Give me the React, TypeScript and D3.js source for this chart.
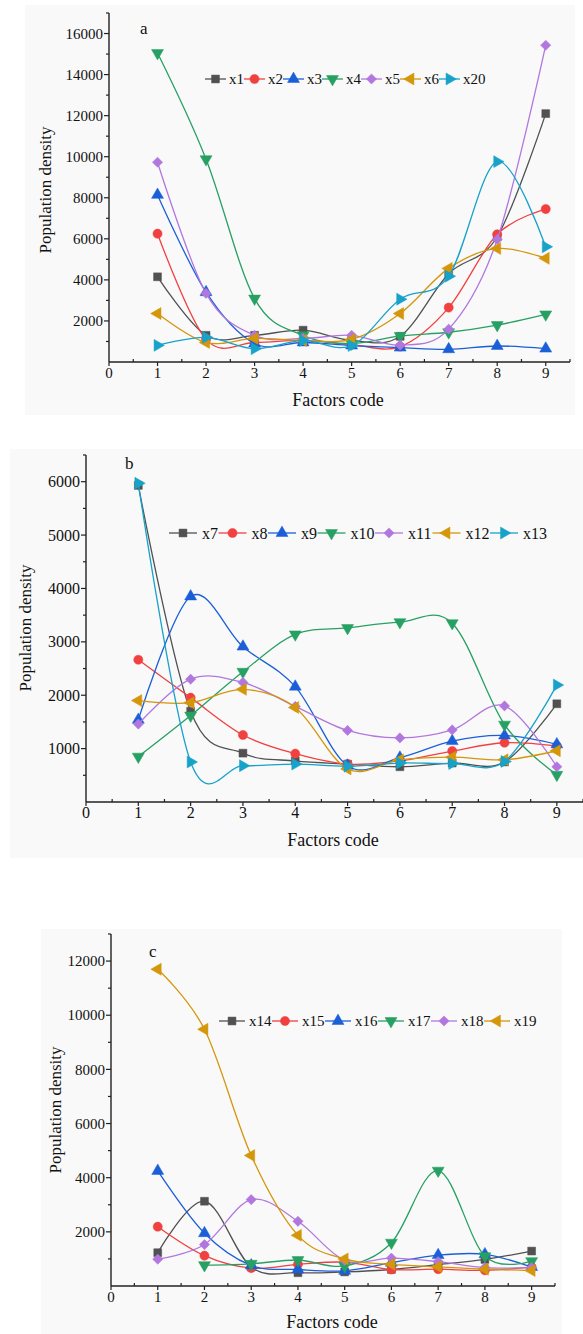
import React from 'react';
import * as d3 from 'd3';

// factor codes on the x axis
const factors = [1, 2, 3, 4, 5, 6, 7, 8, 9];

// panel a
const namesA = ['x1', 'x2', 'x3', 'x4', 'x5', 'x6', 'x20'];
const x1 = [4150, 1300, 1300, 1550, 1050, 1250, 4300, 6100, 12100];
const x2 = [6250, 1100, 950, 1050, 850, 750, 2650, 6220, 7450];
const x3 = [8140, 3400, 900, 950, 800, 700, 620, 780, 650];
const x4 = [15050, 9880, 3090, 1300, 900, 1270, 1450, 1800, 2320];
const x5 = [9730, 3340, 1300, 1150, 1300, 820, 1600, 5970, 15430];
const x6 = [2360, 950, 1150, 1050, 1100, 2360, 4560, 5530, 5050];
const x20 = [810, 1200, 650, 1050, 800, 3060, 4180, 9760, 5610];

// panel b
const namesB = ['x7', 'x8', 'x9', 'x10', 'x11', 'x12', 'x13'];
const x7 = [5930, 1700, 915, 770, 710, 660, 730, 750, 1840];
const x8 = [2665, 1955, 1255, 905, 710, 770, 955, 1110, 1050];
const x9 = [1540, 3850, 2910, 2160, 680, 830, 1140, 1245, 1080];
const x10 = [850, 1620, 2440, 3140, 3260, 3370, 3350, 1450, 510];
const x11 = [1460, 2300, 2240, 1790, 1340, 1200, 1350, 1800, 660];
const x12 = [1900, 1860, 2110, 1770, 620, 790, 840, 790, 960];
const x13 = [5970, 750, 680, 710, 670, 730, 720, 760, 2190];

// panel c (x17 has no value for factor 1)
const namesC = ['x14', 'x15', 'x16', 'x17', 'x18', 'x19'];
const x14 = [1230, 3130, 700, 490, 520, 610, 790, 980, 1290];
const x15 = [2190, 1120, 660, 800, 880, 610, 620, 580, 700];
const x16 = [4250, 1950, 760, 610, 560, 860, 1140, 1170, 700];
const x17 = [null, 770, 820, 960, 740, 1600, 4260, 1100, 920];
const x18 = [990, 1530, 3190, 2390, 950, 1030, 900, 680, 680];
const x19 = [11700, 9480, 4820, 1870, 1000, 800, 710, 620, 570];

const colors = ['#515151', '#f14040', '#1a5fd8', '#27a063', '#b177de', '#d4960a', '#17a2c9'];
const shapes = ['square', 'circle', 'up', 'down', 'diamond', 'left', 'right'];

const FONT = '"Liberation Serif", "Times New Roman", serif';

const symbolFor = (shape) => {
  if (shape === 'square') return { d: d3.symbol(d3.symbolSquare, 62)(), rot: 0 };
  if (shape === 'circle') return { d: d3.symbol(d3.symbolCircle, 66)(), rot: 0 };
  if (shape === 'diamond') return { d: d3.symbol(d3.symbolSquare, 52)(), rot: 45 };
  const rot = { up: 0, down: 180, left: -90, right: 90 }[shape];
  return { d: d3.symbol(d3.symbolTriangle, 62)(), rot };
};

const Marker = ({ shape, color, x, y }) => {
  const s = symbolFor(shape);
  return <path d={s.d} transform={`translate(${x},${y}) rotate(${s.rot})`} fill={color} stroke={color} strokeWidth={0.5} />;
};

const Panel = ({ cfg, names, series }) => {
  const x = d3.scaleLinear().domain([0, 9.5]).range(cfg.xRange);
  const y = d3.scaleLinear().domain(cfg.yDomain).range(cfg.yRange);
  const x0 = cfg.xRange[0];
  const y0 = cfg.yRange[0];

  const line = d3.line()
    .defined((d) => d != null)
    .x((d, i) => x(factors[i]))
    .y((d) => y(d))
    .curve(d3.curveCardinal.tension(0));

  const yMajor = d3.range(cfg.yStep, cfg.yDomain[1] + 1, cfg.yStep).filter((v) => v < cfg.yDomain[1]);
  const yMinor = d3.range(cfg.yStep / 2, cfg.yDomain[1] + 1, cfg.yStep).filter((v) => v <= cfg.yDomain[1]);
  const xMajor = d3.range(0, 10, 1);
  const xMinor = d3.range(0.5, 10, 1);

  // legend layout, one entry after another
  const lg = cfg.legend;
  let cursor = lg.x;
  const legendItems = names.map((n, i) => {
    const item = { n, i, x: cursor };
    cursor += lg.line + lg.gap + n.length * lg.font * 0.5 + lg.after;
    return item;
  });

  return (
    <g>
      <rect x={cfg.bg[0]} y={cfg.bg[1]} width={cfg.bg[2]} height={cfg.bg[3]} fill="#f9f9f9" />

      {/* axes */}
      <line x1={x0} y1={y0} x2={cfg.xRange[1]} y2={y0} stroke="#222" strokeWidth={1.4} />
      <line x1={x0} y1={y0} x2={x0} y2={cfg.yRange[1]} stroke="#222" strokeWidth={1.4} />
      {yMajor.map((v) => (
        <g key={'ym' + v}>
          <line x1={x0 - 5} x2={x0} y1={y(v)} y2={y(v)} stroke="#222" strokeWidth={1.2} />
          <text x={x0 - 6} y={y(v)} dy="0.35em" textAnchor="end" fontFamily={FONT} fontSize={cfg.tickFont} fill="#111">{v}</text>
        </g>
      ))}
      {yMinor.map((v) => (
        <line key={'yn' + v} x1={x0 - 3} x2={x0} y1={y(v)} y2={y(v)} stroke="#222" strokeWidth={1.2} />
      ))}
      {xMajor.map((v) => (
        <g key={'xm' + v}>
          <line x1={x(v)} x2={x(v)} y1={y0} y2={y0 + 4} stroke="#222" strokeWidth={1.2} />
          <text x={x(v)} y={y0 + 16} textAnchor="middle" fontFamily={FONT} fontSize={cfg.tickFont} fill="#111">{v}</text>
        </g>
      ))}
      {xMinor.map((v) => (
        <line key={'xn' + v} x1={x(v)} x2={x(v)} y1={y0} y2={y0 - 3} stroke="#222" strokeWidth={1.2} />
      ))}

      <text x={cfg.xTitle[0]} y={cfg.xTitle[1]} textAnchor="middle" fontFamily={FONT} fontSize={18} fill="#111">Factors code</text>
      <text transform={`translate(${cfg.yTitle[0]},${cfg.yTitle[1]}) rotate(-90)`} textAnchor="middle" dy="0.35em" fontFamily={FONT} fontSize={17} fill="#111">Population density</text>
      <text x={cfg.tag[0]} y={cfg.tag[1]} fontFamily={FONT} fontSize={17} fill="#111">{cfg.tag[2]}</text>

      {/* series */}
      {series.map((vals, i) => (
        <g key={'s' + i}>
          <path d={line(vals)} fill="none" stroke={colors[i]} strokeWidth={1.3} />
          {vals.map((v, j) => v == null ? null : (
            <Marker key={j} shape={shapes[i]} color={colors[i]} x={x(factors[j])} y={y(v)} />
          ))}
        </g>
      ))}

      {/* legend */}
      {legendItems.map((it) => (
        <g key={'l' + it.n}>
          <line x1={it.x} x2={it.x + lg.line} y1={lg.y} y2={lg.y} stroke={colors[it.i]} strokeWidth={1.3} />
          <Marker shape={shapes[it.i]} color={colors[it.i]} x={it.x + lg.line / 2} y={lg.y} />
          <text x={it.x + lg.line + lg.gap} y={lg.y} dy="0.35em" fontFamily={FONT} fontSize={lg.font} fill="#111">{it.n}</text>
        </g>
      ))}
    </g>
  );
};

const cfgA = {
  bg: [25, 5, 550, 410],
  xRange: [109, 570], yRange: [362, 13], yDomain: [0, 17000], yStep: 2000,
  tickFont: 15, xTitle: [338, 406], yTitle: [45, 190], tag: [140, 34, 'a'],
  legend: { x: 205, y: 79, line: 21, gap: 3, after: 0, font: 15 },
};
const cfgB = {
  bg: [10, 449, 573, 409],
  xRange: [86, 583], yRange: [802, 455], yDomain: [0, 6500], yStep: 1000,
  tickFont: 16, xTitle: [333, 846], yTitle: [25, 628], tag: [125, 469, 'b'],
  legend: { x: 169, y: 533, line: 28, gap: 5, after: 0.5, font: 16 },
};
const cfgC = {
  bg: [41, 929, 521, 405],
  xRange: [111, 555], yRange: [1286, 934], yDomain: [0, 13000], yStep: 2000,
  tickFont: 15, xTitle: [332, 1328], yTitle: [55, 1110], tag: [149, 957, 'c'],
  legend: { x: 219, y: 1021, line: 26, gap: 4, after: 0.5, font: 15 },
};

export default function App() {
  return (
    <div style={{ position: 'absolute', left: 0, top: 0 }}>
      <svg width={583} height={1334} style={{ display: 'block', background: '#fff' }}>
        <Panel cfg={cfgA} names={namesA} series={[x1, x2, x3, x4, x5, x6, x20]} />
        <Panel cfg={cfgB} names={namesB} series={[x7, x8, x9, x10, x11, x12, x13]} />
        <Panel cfg={cfgC} names={namesC} series={[x14, x15, x16, x17, x18, x19]} />
      </svg>
    </div>
  );
}
